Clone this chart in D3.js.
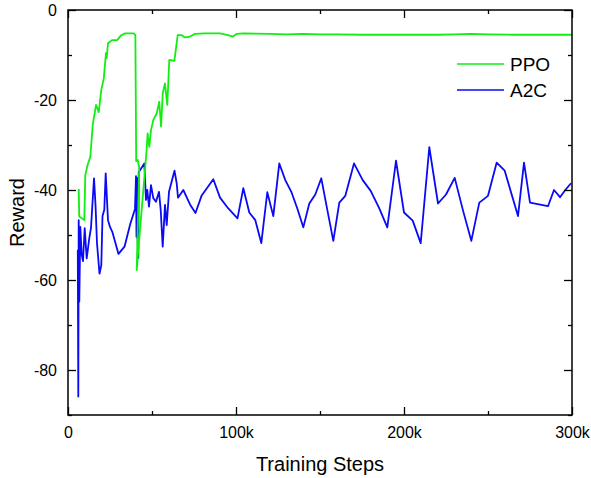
<!DOCTYPE html>
<html>
<head>
<meta charset="utf-8">
<script src="https://cdn.jsdelivr.net/npm/d3@7"></script>
<style>
  html, body { margin: 0; padding: 0; background: #fff; }
  svg { display: block; font-family: "Liberation Sans", Arial, sans-serif; }
</style>
</head>
<body>
<svg id="chart" width="591" height="478"></svg>
<script>
// ---- data (steps in thousands, reward) ----
const ppoSteps = [6.37, 6.7, 8.3, 9.7, 10.3, 11.7, 13.3, 14.7, 16.7, 18.3, 19.8, 21.3, 22.6, 23.0, 23.8, 26.2, 29.2, 31.7, 34.1, 39.1, 40.1, 40.6, 41.5, 42.4, 40.9, 46.8, 47.4, 48.4, 49.4, 50.8, 52.8, 54.3, 55.4, 56.4, 57.7, 59.1, 60.3, 63.3, 65.3, 67.7, 69.6, 72.6, 75.6, 81.5, 90.5, 95.2, 98.2, 100.6, 104.2, 120, 130, 140, 150, 160, 175, 190, 205, 220, 230, 240, 250, 265, 280, 300];
const ppoReward = [-39.8, -45.9, -46.3, -46.7, -36.7, -34.4, -32.6, -25.6, -21.1, -22.7, -17.8, -15.2, -9.6, -10.7, -7.4, -6.7, -6.7, -5.6, -5.2, -5.2, -5.6, -33.6, -33.3, -35.0, -57.8, -31.1, -27.4, -30.4, -26.7, -24.4, -23.0, -20.4, -25.9, -18.5, -16.3, -21.1, -11.1, -11.3, -5.6, -5.6, -6.1, -5.9, -5.3, -5.2, -5.2, -5.6, -5.9, -5.3, -5.2, -5.3, -5.4, -5.3, -5.4, -5.4, -5.5, -5.5, -5.5, -5.5, -5.4, -5.3, -5.4, -5.5, -5.5, -5.5];

const a2cSteps = [5.83, 6.13, 6.37, 6.73, 7.32, 8.15, 8.93, 9.94, 11.13, 12.68, 13.69, 15.48, 16.37, 17.26, 18.75, 19.82, 20.54, 21.61, 22.44, 23.81, 25.0, 26.37, 30.06, 33.63, 37.02, 39.88, 40.48, 40.77, 41.07, 41.37, 41.85, 42.08, 42.86, 45.42, 46.43, 47.2, 48.21, 49.4, 50.77, 52.38, 54.17, 55.18, 56.37, 57.74, 58.75, 60.12, 63.39, 64.7, 65.48, 68.63, 72.62, 75.89, 79.58, 86.49, 90.48, 95.42, 100.89, 104.35, 107.92, 111.49, 115.06, 118.63, 122.2, 125.77, 129.35, 132.92, 136.49, 140.06, 143.63, 147.2, 150.77, 154.35, 157.92, 161.49, 165.06, 170.24, 175.42, 180.18, 185.3, 190.06, 195.24, 200.0, 205.18, 209.94, 215.06, 220.24, 225.0, 230.18, 235.3, 240.06, 244.82, 250.0, 255.18, 259.94, 267.86, 271.43, 275.0, 285.71, 289.29, 292.86, 296.01, 299.4];
const a2cReward = [-53.3, -85.9, -46.7, -64.8, -48.2, -54.4, -55.8, -48.5, -55.2, -50.7, -48.4, -37.4, -43.3, -51.8, -58.6, -56.7, -45.8, -44.4, -36.3, -46.7, -48.2, -49.3, -54.2, -52.6, -47.6, -44.2, -36.9, -50.4, -37.3, -50.4, -55.1, -36.0, -35.6, -34.1, -42.2, -40.0, -43.7, -38.9, -41.8, -42.6, -40.4, -44.4, -52.6, -43.3, -47.8, -40.4, -35.7, -38.5, -41.7, -40.0, -43.2, -45.1, -41.2, -37.6, -41.7, -44.1, -46.3, -39.6, -45.0, -46.7, -51.8, -40.5, -45.8, -34.1, -37.8, -40.4, -44.1, -48.3, -43.0, -41.0, -37.4, -44.4, -51.3, -42.8, -41.3, -34.1, -37.8, -40.2, -44.1, -48.3, -33.5, -45.0, -46.8, -51.8, -30.5, -43.0, -41.0, -37.3, -44.8, -51.3, -42.8, -41.3, -33.9, -35.7, -45.8, -33.9, -42.8, -43.6, -40.0, -41.6, -40.0, -38.5];

const xMajorTicks = [0, 100, 200, 300];
const xMinorTicks = [50, 150, 250];
const xTickLabels = ["0", "100k", "200k", "300k"];
const yMajorTicks = [0, -20, -40, -60, -80];
const yMinorTicks = [-10, -30, -50, -70, -90];
const seriesNames = ["PPO", "A2C"];
const seriesColors = ["#11ee11", "#0a0af5"];

// ---- layout ----
const svg = d3.select("#chart");
const L = 68, R = 572, T = 10, B = 415;
const x = d3.scaleLinear().domain([0, 300]).range([L, R]);
const y = d3.scaleLinear().domain([-90, 0]).range([B, T]);

const line = d3.line().x(d => x(d[0])).y(d => y(d[1]));
const ppo = ppoSteps.map((s, i) => [s, ppoReward[i]]);
const a2c = a2cSteps.map((s, i) => [s, a2cReward[i]]);

svg.append("clipPath").attr("id", "clip")
  .append("rect").attr("x", L).attr("y", T).attr("width", R - L).attr("height", B - T);

const g = svg.append("g").attr("clip-path", "url(#clip)");
g.append("path").datum(a2c).attr("d", line)
  .attr("fill", "none").attr("stroke", seriesColors[1]).attr("stroke-width", 1.8)
  .attr("stroke-linejoin", "round");
g.append("path").datum(ppo).attr("d", line)
  .attr("fill", "none").attr("stroke", seriesColors[0]).attr("stroke-width", 1.8)
  .attr("stroke-linejoin", "round");

// ---- axes: ticks inward on all four sides ----
const fmtX = d => xTickLabels[xMajorTicks.indexOf(d)];
function styleAxis(sel) {
  sel.select(".domain").remove();
  sel.selectAll("line").attr("stroke", "#000").attr("stroke-width", 1.3);
  sel.selectAll("text").attr("fill", "#000").style("font-size", "16px")
    .style("font-family", "'Liberation Sans', Arial, sans-serif");
}
// bottom
svg.append("g").attr("transform", `translate(0,${B})`)
  .call(d3.axisBottom(x).tickValues(xMajorTicks).tickFormat(fmtX).tickSizeInner(-8).tickSizeOuter(0).tickPadding(12))
  .call(styleAxis);
svg.append("g").attr("transform", `translate(0,${B})`)
  .call(d3.axisBottom(x).tickValues(xMinorTicks).tickFormat("").tickSizeInner(-4).tickSizeOuter(0))
  .call(styleAxis);
// top
svg.append("g").attr("transform", `translate(0,${T})`)
  .call(d3.axisTop(x).tickValues(xMajorTicks).tickFormat("").tickSizeInner(-8).tickSizeOuter(0))
  .call(styleAxis);
svg.append("g").attr("transform", `translate(0,${T})`)
  .call(d3.axisTop(x).tickValues(xMinorTicks).tickFormat("").tickSizeInner(-4).tickSizeOuter(0))
  .call(styleAxis);
// left
svg.append("g").attr("transform", `translate(${L},0)`)
  .call(d3.axisLeft(y).tickValues(yMajorTicks).tickFormat(d => String(d)).tickSizeInner(-8).tickSizeOuter(0).tickPadding(11))
  .call(styleAxis);
svg.append("g").attr("transform", `translate(${L},0)`)
  .call(d3.axisLeft(y).tickValues(yMinorTicks).tickFormat("").tickSizeInner(-4).tickSizeOuter(0))
  .call(styleAxis);
// right
svg.append("g").attr("transform", `translate(${R},0)`)
  .call(d3.axisRight(y).tickValues(yMajorTicks).tickFormat("").tickSizeInner(-8).tickSizeOuter(0))
  .call(styleAxis);
svg.append("g").attr("transform", `translate(${R},0)`)
  .call(d3.axisRight(y).tickValues(yMinorTicks).tickFormat("").tickSizeInner(-4).tickSizeOuter(0))
  .call(styleAxis);

// frame
svg.append("rect").attr("x", L).attr("y", T).attr("width", R - L).attr("height", B - T)
  .attr("fill", "none").attr("stroke", "#000").attr("stroke-width", 1.5);

// axis titles
svg.append("text").attr("x", (L + R) / 2).attr("y", 471).attr("text-anchor", "middle")
  .style("font-size", "20px").attr("fill", "#000").text("Training Steps");
svg.append("text").attr("transform", `translate(24,${(T + B) / 2}) rotate(-90)`)
  .attr("text-anchor", "middle").style("font-size", "20px").attr("fill", "#000").text("Reward");

// legend
const legY = [64, 90];
seriesNames.forEach((n, i) => {
  svg.append("line").attr("x1", 457).attr("x2", 504).attr("y1", legY[i]).attr("y2", legY[i])
    .attr("stroke", seriesColors[i]).attr("stroke-width", 1.6);
  svg.append("text").attr("x", 510).attr("y", legY[i] + 6.5).style("font-size", "19px")
    .attr("fill", "#000").text(n);
});
</script>
</body>
</html>
